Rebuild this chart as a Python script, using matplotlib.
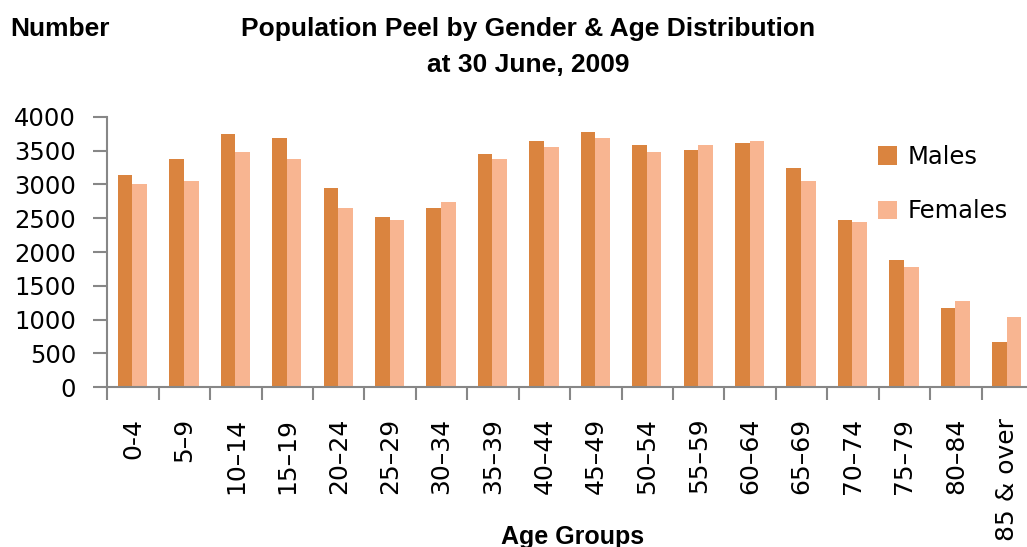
import matplotlib
matplotlib.use("Agg")
import matplotlib.pyplot as plt
import numpy as np
from matplotlib.patches import Patch

categories = ["0-4", "5\u20139", "10\u201314", "15\u201319", "20\u201324", "25\u201329",
              "30\u201334", "35\u201339", "40\u201344", "45\u201349", "50\u201354", "55\u201359",
              "60\u201364", "65\u201369", "70\u201374", "75\u201379", "80\u201384", "85 & over"]
males = [3145, 3375, 3745, 3680, 2940, 2510, 2645, 3445, 3645, 3780, 3575, 3510,
         3610, 3240, 2475, 1875, 1170, 675]
females = [3010, 3045, 3480, 3375, 2645, 2475, 2745, 3375, 3545, 3680, 3480, 3575,
           3645, 3045, 2445, 1780, 1275, 1040]
yticks = [0, 500, 1000, 1500, 2000, 2500, 3000, 3500, 4000]

male_color = "#DA843F"
female_color = "#F8B591"
axis_color = "#878787"
title_font = ["Liberation Sans", "DejaVu Sans"]

W, H = 1027, 547
fig = plt.figure(figsize=(W / 100, H / 100), dpi=100)

x0, x1 = 107.3, 1033.0
ybot, ytop = 387.3, 116.7
ax = fig.add_axes([x0 / W, (H - ybot) / H, (x1 - x0) / W, (ybot - ytop) / H])

x = np.arange(len(categories))
bw = 0.285
off = -0.01
ax.bar(x + off - bw / 2, males, width=bw, color=male_color, label="Males")
ax.bar(x + off + bw / 2, females, width=bw, color=female_color, label="Females")

ax.set_xlim(-0.5, len(categories) - 0.5)
ax.set_ylim(0, 4000)
ax.set_yticks(yticks)
ax.set_yticklabels([str(v) for v in yticks], fontsize=17.5)
ax.set_xticks(x)
ax.set_xticklabels(categories, rotation=90, fontsize=18, va="top", ha="center")
ax.tick_params(axis="x", which="major", length=0, pad=22)
ax.set_xticks(np.arange(-0.5, len(categories) + 0.5, 1), minor=True)
ax.tick_params(axis="x", which="minor", length=9, width=1.5, color=axis_color, direction="out")
ax.tick_params(axis="y", length=10, width=1.5, color=axis_color, direction="out", pad=12.5)

for s in ["top", "right"]:
    ax.spines[s].set_visible(False)
for s in ["left", "bottom"]:
    ax.spines[s].set_color(axis_color)
    ax.spines[s].set_linewidth(1.5)

handles = [Patch(facecolor=male_color, label="Males"),
           Patch(facecolor=female_color, label="Females")]
fig.legend(handles=handles, loc="upper left", bbox_to_anchor=(878 / W, 1 - 145 / H),
           frameon=False, fontsize=17.5, handlelength=0.8, handleheight=0.8,
           handletextpad=0.4, labelspacing=1.25, borderpad=0, borderaxespad=0)

fig.text(10 / W, 1 - 29 / H, "Number", fontsize=19, fontweight="bold",
         family=title_font, ha="left", va="center")
fig.text(528 / W, 1 - 29 / H, "Population Peel by Gender & Age Distribution",
         fontsize=19, fontweight="bold", family=title_font, ha="center", va="center")
fig.text(528 / W, 1 - 65 / H, "at 30 June, 2009",
         fontsize=19, fontweight="bold", family=title_font, ha="center", va="center")
fig.text(573 / W, 1 - 537 / H, "Age Groups", fontsize=18, fontweight="bold",
         family=title_font, ha="center", va="center")

fig.savefig("out.png", dpi=100)
